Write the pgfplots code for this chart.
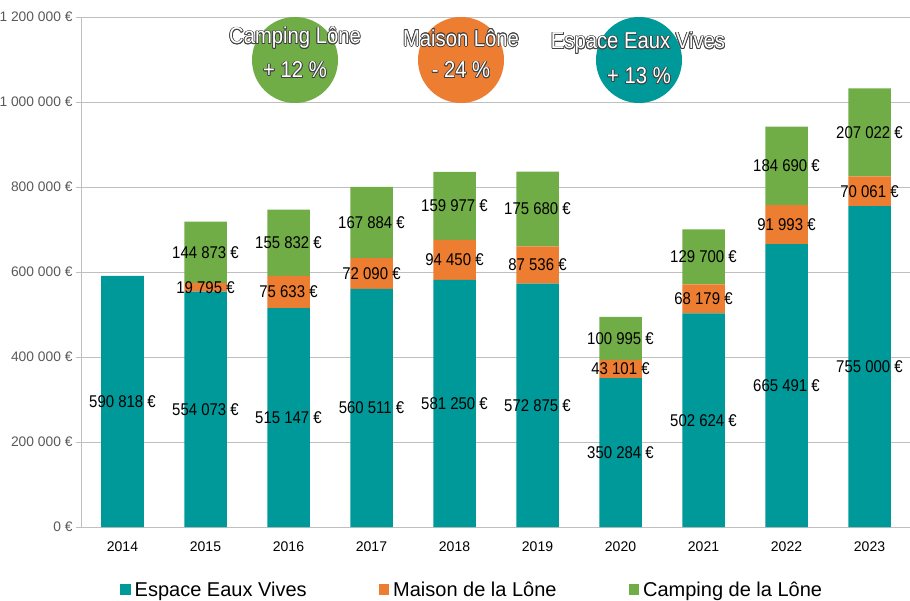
\documentclass[border=0pt]{standalone}
\usepackage{pgfplots}
\usepackage{pgfplotstable}
\pgfplotsset{compat=1.18}
\usepackage{fontspec}
\setmainfont{Liberation Sans}
\newfontfamily\cond[FakeStretch=0.88]{Liberation Sans}
\definecolor{tealc}{HTML}{009999}
\definecolor{orngc}{HTML}{ED7D31}
\definecolor{grnc}{HTML}{70AD47}
\definecolor{gridc}{HTML}{BFBFBF}
\definecolor{tickc}{HTML}{595959}

\pgfplotstableread[col sep=semicolon]{
x;y;label
0;590818;590 818 €
1;554073;554 073 €
2;515147;515 147 €
3;560511;560 511 €
4;581250;581 250 €
5;572875;572 875 €
6;350284;350 284 €
7;502624;502 624 €
8;665491;665 491 €
9;755000;755 000 €
}\eev
\pgfplotstableread[col sep=semicolon]{
x;y;label
0;0;{}
1;19795;19 795 €
2;75633;75 633 €
3;72090;72 090 €
4;94450;94 450 €
5;87536;87 536 €
6;43101;43 101 €
7;68179;68 179 €
8;91993;91 993 €
9;70061;70 061 €
}\mai
\pgfplotstableread[col sep=semicolon]{
x;y;label
0;0;{}
1;144873;144 873 €
2;155832;155 832 €
3;167884;167 884 €
4;159977;159 977 €
5;175680;175 680 €
6;100995;100 995 €
7;129700;129 700 €
8;184690;184 690 €
9;207022;207 022 €
}\cam

\newcommand{\outl}[4]{% x, y, size, text
  \foreach \a in {0,30,...,330}{\node[text=black!75, font=\cond\fontsize{#3}{#3}\selectfont] at ([shift={(\a:0.75pt)}]#1pt,#2pt) {#4};}
  \node[text=white, font=\cond\fontsize{#3}{#3}\selectfont] at (#1pt,#2pt) {#4};
}

\begin{document}
\begin{tikzpicture}[x=1pt,y=1pt]
\useasboundingbox (0,0) rectangle (910,600);
\begin{axis}[
  at={(81pt,73pt)}, anchor=south west,
  width=830pt, height=510pt, scale only axis,
  ybar stacked, bar width=42.5pt,
  xmin=-0.5, xmax=9.5, ymin=0, ymax=1200000,
  xtick={0,...,9},
  xticklabels={2014,2015,2016,2017,2018,2019,2020,2021,2022,2023},
  ytick={0,200000,400000,600000,800000,1000000,1200000},
  yticklabels={0 €,200 000 €,400 000 €,600 000 €,800 000 €,1 000 000 €,1 200 000 €},
  scaled y ticks=false,
  ymajorgrids, grid style={gridc, line width=0.9pt},
  axis x line*=bottom, axis y line*=left,
  axis line style={gridc, line width=0.9pt},
  x tick style={draw=none},
  y tick style={gridc, line width=0.9pt},
  tick align=outside, major tick length=5pt,
  xticklabel style={font=\fontsize{14}{14}\selectfont, text=black, yshift=-6pt},
  yticklabel style={font=\fontsize{13.8}{14}\selectfont, text=tickc},
  nodes near coords,
  point meta=explicit symbolic,
  every node near coord/.append style={anchor=center,
    font=\cond\fontsize{17}{17}\selectfont, text=black},
  legend style={draw=none, at={(0.047,-0.123)}, anchor=west, inner sep=0pt,
    font=\fontsize{20}{20}\selectfont, legend columns=3,
    /tikz/every odd column/.append style={column sep=2pt},
    /tikz/every even column/.append style={column sep=70pt}},
  legend image code/.code={\fill[#1] (0pt,-5.5pt) rectangle (10.5pt,5.5pt);},
]
\addplot[fill=tealc, draw=none] table[x=x, y=y, meta=label]{\eev};
\addplot[fill=orngc, draw=none] table[x=x, y=y, meta=label]{\mai};
\addplot[fill=grnc, draw=none] table[x=x, y=y, meta=label]{\cam};
\legend{Espace Eaux Vives, Maison de la Lône, Camping de la Lône}
\end{axis}
\fill[grnc] (295,540) circle (43);
\fill[orngc] (461,540) circle (43);
\fill[tealc] (639,540) circle (43);
\outl{295}{562}{23}{Camping Lône}
\outl{295}{530}{23}{+ 12 \%}
\outl{461}{562}{23}{Maison Lône}
\outl{461}{530}{23}{- 24 \%}
\outl{638}{557}{23}{Espace Eaux Vives}
\outl{639}{524}{23}{+ 13 \%}
\end{tikzpicture}
\end{document}
